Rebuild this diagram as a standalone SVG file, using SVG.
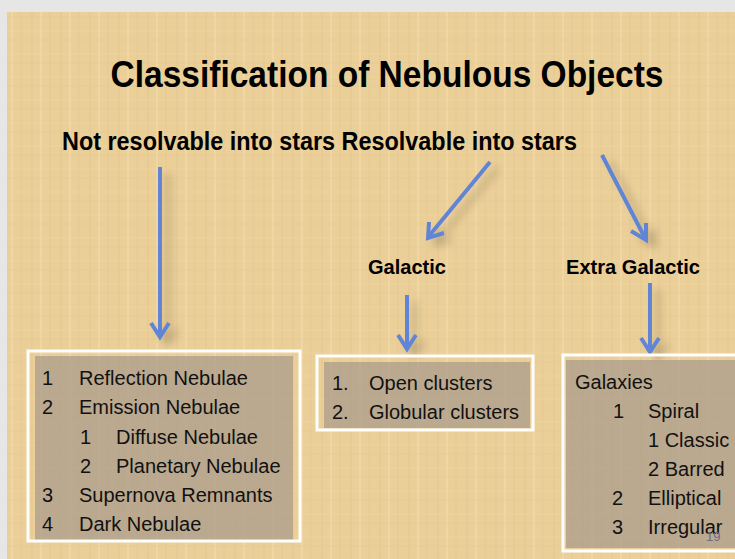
<svg xmlns="http://www.w3.org/2000/svg" width="735" height="559" viewBox="0 0 735 559">
  <defs>
    <style>
      .title { font-family: "Liberation Sans", Arial, sans-serif; font-weight: bold; fill: #000; }
      .item { font-family: "Liberation Sans", Arial, sans-serif; font-size: 20px; fill: #111; }
      .frame { fill: none; stroke: #ffffff; stroke-width: 3; }
      .panel { fill: #a89a8c; fill-opacity: 0.72; }
      .conn { stroke: #6185d6; stroke-width: 4; fill: none; stroke-linecap: butt; }
      .head { stroke: #6185d6; stroke-width: 4; fill: none; stroke-linejoin: miter; }
    </style>
    <pattern id="papyrus" width="29" height="23" patternUnits="userSpaceOnUse">
      <rect width="29" height="23" fill="#ebcf98"/>
      <line x1="3" y1="0" x2="3" y2="23" stroke="#dcbd80" stroke-width="1" opacity="0.45"/>
      <line x1="12" y1="0" x2="12" y2="23" stroke="#f4e0b0" stroke-width="1.5" opacity="0.55"/>
      <line x1="21" y1="0" x2="21" y2="23" stroke="#dfc286" stroke-width="1" opacity="0.35"/>
      <line x1="0" y1="8" x2="29" y2="8" stroke="#f2dcaa" stroke-width="1" opacity="0.35"/>
      <line x1="0" y1="17" x2="29" y2="17" stroke="#dcbf84" stroke-width="1" opacity="0.25"/>
    </pattern>
    <filter id="shade" x="-50%" y="-20%" width="200%" height="140%">
      <feGaussianBlur in="SourceAlpha" stdDeviation="4"/>
      <feOffset dx="8" dy="6"/>
      <feComponentTransfer><feFuncA type="linear" slope="0.22"/></feComponentTransfer>
      <feMerge><feMergeNode/><feMergeNode in="SourceGraphic"/></feMerge>
    </filter>
  </defs>

  <!-- page and slide background -->
  <rect width="735" height="559" fill="#e6e6e6"/>
  <rect x="7" y="12" width="728" height="547" fill="url(#papyrus)"/>

  <!-- headings -->
  <g id="title">
    <text class="title" x="387" y="87" font-size="37" text-anchor="middle" textLength="553" lengthAdjust="spacingAndGlyphs">Classification of Nebulous Objects</text>
  </g>
  <g id="resolvability">
    <text class="title" x="62" y="150" font-size="26" textLength="515" lengthAdjust="spacingAndGlyphs">Not resolvable into stars Resolvable into stars</text>
  </g>
  <g id="galactic">
    <text class="title" x="368" y="274" font-size="20" textLength="78" lengthAdjust="spacingAndGlyphs">Galactic</text>
  </g>
  <g id="extra-galactic">
    <text class="title" x="566" y="274" font-size="20" textLength="134" lengthAdjust="spacingAndGlyphs">Extra Galactic</text>
  </g>

  <!-- connectors -->
  <g id="connectors" filter="url(#shade)">
    <line class="conn" x1="160" y1="167" x2="160" y2="336"/>
    <polyline class="head" points="151,323 160,337 169,323"/>

    <line class="conn" x1="490" y1="162" x2="429" y2="236"/>
    <polyline class="head" points="429,222 428,238 444,233"/>

    <line class="conn" x1="602" y1="155" x2="645" y2="238"/>
    <polyline class="head" points="631,231 646,240 646,223"/>

    <line class="conn" x1="407" y1="295" x2="407" y2="348"/>
    <polyline class="head" points="398,335 407,349 416,335"/>

    <line class="conn" x1="650" y1="283" x2="650" y2="351"/>
    <polyline class="head" points="641,338 650,352 659,338"/>
  </g>

  <!-- nebulae list -->
  <g id="nebulae">
    <rect class="panel" x="35" y="356" width="258" height="186"/>
    <rect class="frame" x="28" y="351" width="272" height="190"/>
    <text class="item" x="42" y="385">1</text><text class="item" x="79" y="385">Reflection Nebulae</text>
    <text class="item" x="42" y="414">2</text><text class="item" x="79" y="414">Emission Nebulae</text>
    <text class="item" x="80" y="444">1</text><text class="item" x="116" y="444">Diffuse Nebulae</text>
    <text class="item" x="80" y="473">2</text><text class="item" x="116" y="473">Planetary Nebulae</text>
    <text class="item" x="42" y="502">3</text><text class="item" x="79" y="502">Supernova Remnants</text>
    <text class="item" x="42" y="531">4</text><text class="item" x="79" y="531">Dark Nebulae</text>
  </g>

  <!-- galactic list -->
  <g id="clusters">
    <rect class="panel" x="324" y="362" width="206" height="66"/>
    <rect class="frame" x="317" y="356" width="216" height="74"/>
    <text class="item" x="332" y="390">1.</text><text class="item" x="369" y="390">Open clusters</text>
    <text class="item" x="332" y="419">2.</text><text class="item" x="369" y="419">Globular clusters</text>
  </g>

  <!-- extra galactic list -->
  <g id="galaxies">
    <rect class="panel" x="566" y="360" width="172" height="188"/>
    <rect class="frame" x="563" y="355" width="180" height="196"/>
    <text class="item" x="575" y="389">Galaxies</text>
    <text class="item" x="613" y="418">1</text><text class="item" x="648" y="418">Spiral</text>
    <text class="item" x="648" y="447">1 Classic</text>
    <text class="item" x="648" y="476">2 Barred</text>
    <text class="item" x="612" y="505">2</text><text class="item" x="648" y="505">Elliptical</text>
    <text class="item" x="612" y="534">3</text><text class="item" x="648" y="534">Irregular</text>
    <text x="706" y="541" font-family="Liberation Sans, Arial, sans-serif" font-size="13" fill="#6d6a8a">19</text>
  </g>
</svg>
